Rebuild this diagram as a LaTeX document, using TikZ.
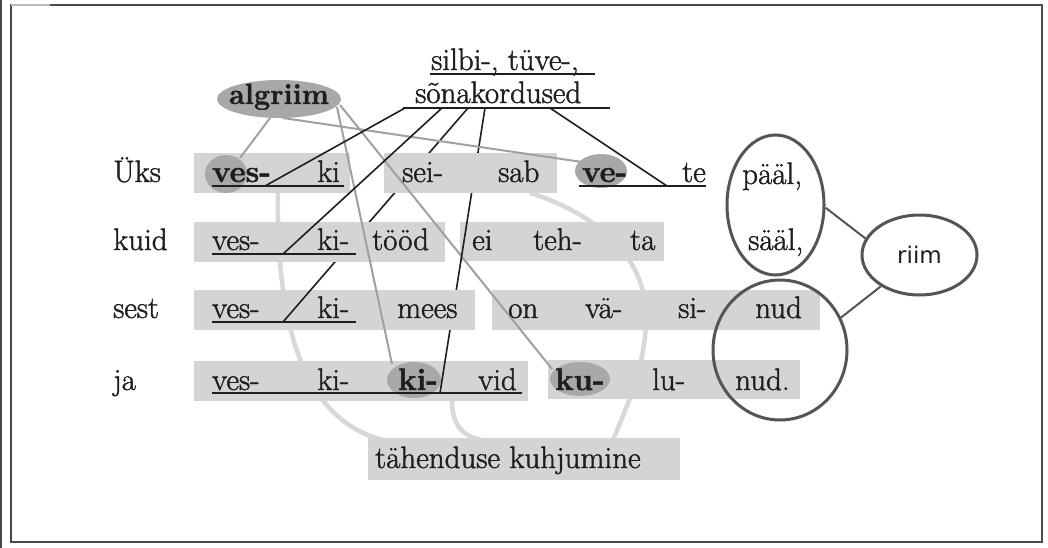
\documentclass[tikz,border=0pt]{standalone}
\usepackage{fontspec}
\setmainfont{Latin Modern Roman}[FakeBold=1.4]
\newfontfamily\riimfont{DejaVu Sans}
\usetikzlibrary{shapes.geometric}
\pgfdeclarelayer{bg}
\pgfsetlayers{bg,main}
\definecolor{boxgray}{HTML}{D4D4D4}
\definecolor{hlgray}{HTML}{A8A8A8}
\definecolor{arcgray}{HTML}{D8D8D8}
\definecolor{lngray}{HTML}{A0A0A0}
\definecolor{ink}{HTML}{1E1E1E}
\definecolor{framegray}{HTML}{4A4A4A}
\definecolor{ringgray}{HTML}{555555}
\begin{document}
\begin{tikzpicture}[x=1pt,y=-1pt,
  wbox/.style={rectangle, fill=boxgray, draw=none, inner sep=0pt, outer sep=0pt},
  hl/.style={ellipse, fill=hlgray, draw=none, inner sep=0pt},
  wd/.style={anchor=base west, inner sep=0pt, font=\fontsize{31}{36}\selectfont, text=ink},
  bwd/.style={wd, font=\fontsize{31}{36}\selectfont\bfseries},
  blk/.style={draw=ink, line width=1.6pt},
  uline/.style={draw=ink, line width=2pt},
  gline/.style={draw=lngray, line width=2pt},
  garc/.style={draw=arcgray, line width=4.5pt},
  ring/.style={ellipse, draw=ringgray, line width=3pt, inner sep=0pt},
  conn/.style={draw=ringgray, line width=2pt}]
\useasboundingbox (0,0) rectangle (1048,548);

% coordinates
\coordinate (s1) at (405,108); \coordinate (e1) at (265,186);
\coordinate (s2) at (442,108); \coordinate (e2) at (283,254);
\coordinate (s3) at (468,108); \coordinate (e3) at (283,322);
\coordinate (s4) at (485,108); \coordinate (e4) at (440,393);
\coordinate (s5) at (550,108); \coordinate (e5) at (667,186);
\coordinate (g1s) at (270,118); \coordinate (g1e) at (240,158);
\coordinate (g2s) at (283,118); \coordinate (g2e) at (582,162);
\coordinate (g3s) at (337,107); \coordinate (g3e) at (392,364);
\coordinate (g4s) at (340,105); \coordinate (g4e) at (552,369);
\coordinate (aL1) at (278,193); \coordinate (aL2) at (383,440);
\coordinate (aR1) at (530,193); \coordinate (aR2) at (613,440);
\coordinate (aM1) at (452,400); \coordinate (aM2) at (482,440);

\begin{pgfonlayer}{bg}
\fill[white] (0,0) rectangle (1048,548);
\draw[garc] (aL1) .. controls (276,330) and (305,420) .. (aL2);
\draw[garc] (aR1) .. controls (600,215) and (648,260) .. (646,320) .. controls (645,370) and (625,410) .. (aR2);
\draw[garc] (aM1) .. controls (452,425) and (462,436) .. (aM2);
\draw[blk] (s3) -- (e3);
\draw[blk] (s4) -- (e4);
\end{pgfonlayer}

% frame
\draw[framegray, line width=2pt] (1,0) -- (1,548);
\draw[framegray, line width=2.5pt] (11,5) rectangle (1042,542);
\draw[gray!55, line width=2.5pt] (11,5) -- (50,5);

% boxes
\node[wbox, minimum width=156pt, minimum height=40pt] (bA) at (272,173) {};
\node[wbox, minimum width=173pt, minimum height=40pt] (bB) at (470.5,173) {};
\node[wbox, minimum width=251pt, minimum height=40pt] (bC) at (319.5,242) {};
\node[wbox, minimum width=204pt, minimum height=39pt] (bD) at (562,241.5) {};
\node[wbox, minimum width=281pt, minimum height=40pt] (bE) at (334.5,310) {};
\node[wbox, minimum width=328pt, minimum height=40pt] (bF) at (656,310) {};
\node[wbox, minimum width=334pt, minimum height=40pt] (bG) at (361,381) {};
\node[wbox, minimum width=252pt, minimum height=39pt] (bH) at (674,379.5) {};
\node[wbox, minimum width=312pt, minimum height=42pt] (bT) at (524,459) {};

% gray lines from algriim
\draw[gline] (g1s) -- (g1e);
\draw[gline] (g2s) -- (g2e);
\draw[gline] (g3s) -- (g3e);
\draw[gline] (g4s) -- (g4e);

% highlight ellipses
\node[hl, minimum width=124pt, minimum height=38pt] (alg) at (279,99) {};
\node[hl, minimum width=42pt, minimum height=38pt] (h1) at (226,174) {};
\node[hl, minimum width=52pt, minimum height=34pt] (h2) at (601,171) {};
\node[hl, minimum width=54pt, minimum height=36pt] (h3) at (414,380) {};
\node[hl, minimum width=60pt, minimum height=34pt] (h4) at (580,379) {};

% black lines
\draw[blk] (s1) -- (e1);
\draw[blk] (s2) -- (e2);
\draw[blk] (s5) -- (e5);
\begin{scope}
\clip (bE.north west) rectangle (bE.south east);
\draw[blk] (s3) -- (e3);
\end{scope}
\begin{scope}
\clip (bD.north west) rectangle (bD.south east);
\draw[blk] (s4) -- (e4);
\end{scope}
\begin{scope}
\clip (bG.north west) rectangle (bG.south east);
\draw[blk] (s4) -- (e4);
\end{scope}

% underlines
\coordinate (ut1) at (430,74); \coordinate (ut2) at (595,74);
\coordinate (us1) at (403,108); \coordinate (us2) at (610,108);
\coordinate (u1a) at (212,186); \coordinate (u1b) at (344,186);
\coordinate (u1c) at (579,186); \coordinate (u1d) at (706,186);
\coordinate (u2a) at (212,254); \coordinate (u2b) at (356,254);
\coordinate (u3a) at (212,322); \coordinate (u3b) at (356,322);
\coordinate (u4a) at (212,393); \coordinate (u4b) at (522,393);
\draw[uline] (ut1) -- (ut2);
\draw[uline] (us1) -- (us2);
\draw[uline] (u1a) -- (u1b);
\draw[uline] (u1c) -- (u1d);
\draw[uline] (u2a) -- (u2b);
\draw[uline] (u3a) -- (u3b);
\draw[uline] (u4a) -- (u4b);

% rings
\node[ring, minimum width=97pt, minimum height=140pt] (paal) at (775.5,205) {};
\node[ring, minimum width=115pt, minimum height=80pt, font=\riimfont\fontsize{23}{27}\selectfont, text=ink] (riim) at (919.5,255) {riim};
\node[ring, minimum width=134pt, minimum height=140pt] (nudc) at (780,350) {};
\draw[conn] (paal.-3) -- (riim.163);
\draw[conn] (nudc.28) -- (riim.219);

% top texts
\node[bwd, anchor=base, font=\fontsize{29}{34}\selectfont\bfseries] (talg) at (279,104) {algriim};
\node[wd] (tsil) at (431,70) {silbi-, tüve-,};
\node[wd] (tson) at (415,103) {sõnakordused};

% row 1
\node[wd] (r1) at (113,182) {Üks};
\node[bwd] (w1a) at (212,182) {ves-};
\node[wd] (w1b) at (317,182) {ki};
\node[wd] (w1c) at (402,182) {sei-};
\node[wd] (w1d) at (498,182) {sab};
\node[bwd] (w1e) at (582,182) {ve-};
\node[wd] (w1f) at (682,182) {te};
\node[wd] (w1g) at (742,184) {pääl,};
% row 2
\node[wd] (r2) at (113,250) {kuid};
\node[wd] (w2a) at (212,250) {ves-};
\node[wd] (w2b) at (317,250) {ki-};
\node[wd] (w2c) at (372,250) {tööd};
\node[wd] (w2d) at (472,250) {ei};
\node[wd] (w2e) at (533,250) {teh-};
\node[wd] (w2f) at (630,250) {ta};
\node[wd] (w2g) at (748,250) {sääl,};
% row 3
\node[wd] (r3) at (113,318) {sest};
\node[wd] (w3a) at (212,318) {ves-};
\node[wd] (w3b) at (317,318) {ki-};
\node[wd] (w3c) at (397,318) {mees};
\node[wd] (w3d) at (508,318) {on};
\node[wd] (w3e) at (585,318) {vä-};
\node[wd] (w3f) at (678,318) {si-};
\node[wd] (w3g) at (755,318) {nud};
% row 4
\node[wd] (r4) at (113,390) {ja};
\node[wd] (w4a) at (212,390) {ves-};
\node[wd] (w4b) at (317,390) {ki-};
\node[bwd] (w4c) at (398,390) {ki-};
\node[wd] (w4d) at (478,390) {vid};
\node[bwd] (w4e) at (555,390) {ku-};
\node[wd] (w4f) at (652,390) {lu-};
\node[wd] (w4g) at (735,390) {nud.};
% bottom
\node[wd] (tah) at (375,468) {tähenduse kuhjumine};
\end{tikzpicture}
\end{document}
